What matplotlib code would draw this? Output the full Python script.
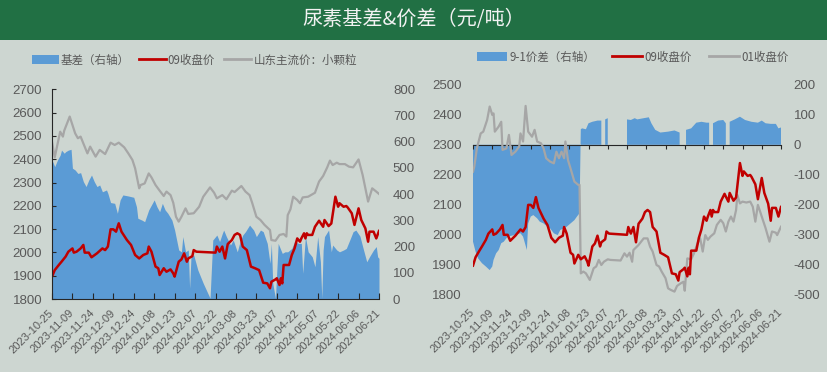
import matplotlib
matplotlib.use('Agg')
import matplotlib.pyplot as plt
import numpy as np
import pandas as pd
from matplotlib.patches import Rectangle, Patch
from matplotlib.lines import Line2D

plt.rcParams['font.family'] = ['Noto Sans CJK SC', 'DejaVu Sans']

# ---------------- data ----------------
title = '尿素基差&价差（元/吨）'
tick_labels = ['2023-10-25', '2023-11-09', '2023-11-24', '2023-12-09', '2023-12-24',
               '2024-01-08', '2024-01-23', '2024-02-07', '2024-02-22', '2024-03-08',
               '2024-03-23', '2024-04-07', '2024-04-22', '2024-05-07', '2024-05-22',
               '2024-06-06', '2024-06-21']
left_yticks = [1800, 1900, 2000, 2100, 2200, 2300, 2400, 2500, 2600, 2700]
left_ryticks = [0, 100, 200, 300, 400, 500, 600, 700, 800]
right_yticks = [1800, 1900, 2000, 2100, 2200, 2300, 2400, 2500]
right_ryticks = [-500, -400, -300, -200, -100, 0, 100, 200]

# 09 close price
c09_dates = ['2023-10-25', '2023-10-27', '2023-10-30', '2023-11-01', '2023-11-04', '2023-11-06',
             '2023-11-09', '2023-11-10', '2023-11-12', '2023-11-15', '2023-11-17', '2023-11-18',
             '2023-11-21', '2023-11-23', '2023-11-27', '2023-12-01', '2023-12-03', '2023-12-05',
             '2023-12-07', '2023-12-09', '2023-12-11', '2023-12-13', '2023-12-15', '2023-12-19',
             '2023-12-22', '2023-12-25', '2023-12-28', '2023-12-31', '2024-01-03', '2024-01-04',
             '2024-01-06', '2024-01-09', '2024-01-11', '2024-01-12', '2024-01-15', '2024-01-17',
             '2024-01-20', '2024-01-22', '2024-01-23', '2024-01-26', '2024-01-28', '2024-01-30',
             '2024-02-01', '2024-02-02', '2024-02-05', '2024-02-06', '2024-02-08', '2024-02-22',
             '2024-02-23', '2024-02-25', '2024-02-27', '2024-02-29', '2024-03-02', '2024-03-05',
             '2024-03-07', '2024-03-09', '2024-03-11', '2024-03-13', '2024-03-16', '2024-03-19',
             '2024-03-22', '2024-03-25', '2024-03-28', '2024-03-31', '2024-04-02', '2024-04-03',
             '2024-04-06', '2024-04-07', '2024-04-09', '2024-04-10', '2024-04-11', '2024-04-12',
             '2024-04-16', '2024-04-18', '2024-04-20', '2024-04-22', '2024-04-24', '2024-04-25',
             '2024-04-27', '2024-04-28', '2024-04-29', '2024-04-30', '2024-05-03', '2024-05-05',
             '2024-05-08', '2024-05-09', '2024-05-11', '2024-05-12', '2024-05-15', '2024-05-17',
             '2024-05-20', '2024-05-22', '2024-05-23', '2024-05-26', '2024-05-28', '2024-05-29',
             '2024-06-01', '2024-06-03', '2024-06-06', '2024-06-08', '2024-06-11', '2024-06-13',
             '2024-06-14', '2024-06-17', '2024-06-19', '2024-06-21']
c09_values = [1896, 1924, 1946, 1960, 1982, 2003,
              2017, 1999, 2003, 2017, 2032, 1999,
              1999, 1979, 1996, 2017, 2010, 2025,
              2099, 2099, 2089, 2125, 2089, 2053,
              2032, 1989, 1974, 1989, 1996, 2025,
              2003, 1939, 1932, 1903, 1932, 1917,
              1927, 1910, 1896, 1960, 1970, 1996,
              1960, 1974, 1984, 2010, 2003, 1999,
              2025, 2003, 2025, 1974, 2036, 2053,
              2075, 2082, 2075, 2025, 2010, 1939,
              1932, 1924, 1870, 1867, 1846, 1874,
              1884, 1889, 1860, 1889, 1867, 1946,
              1946, 1989, 2017, 2060, 2046, 2060,
              2082, 2060, 2082, 2075, 2075, 2110,
              2136, 2127, 2110, 2139, 2113, 2124,
              2239, 2196, 2211, 2196, 2199, 2193,
              2168, 2118, 2189, 2139, 2103, 2046,
              2089, 2089, 2060, 2092]

# Shandong mainstream price: small granule
sd_dates = ['2023-10-25', '2023-10-27', '2023-10-31', '2023-11-02', '2023-11-03', '2023-11-07',
            '2023-11-11', '2023-11-13', '2023-11-15', '2023-11-17', '2023-11-20', '2023-11-22',
            '2023-11-26', '2023-11-29', '2023-12-03', '2023-12-07', '2023-12-10', '2023-12-13',
            '2023-12-17', '2023-12-20', '2023-12-23', '2023-12-25', '2023-12-28', '2023-12-29',
            '2024-01-01', '2024-01-04', '2024-01-06', '2024-01-09', '2024-01-12', '2024-01-15',
            '2024-01-17', '2024-01-20', '2024-01-22', '2024-01-24', '2024-01-26', '2024-01-28',
            '2024-01-31', '2024-02-02', '2024-02-06', '2024-02-10', '2024-02-13', '2024-02-18',
            '2024-02-21', '2024-02-23', '2024-02-27', '2024-03-01', '2024-03-05', '2024-03-07',
            '2024-03-12', '2024-03-15', '2024-03-18', '2024-03-20', '2024-03-23', '2024-03-26',
            '2024-03-29', '2024-04-02', '2024-04-03', '2024-04-06', '2024-04-09', '2024-04-12',
            '2024-04-14', '2024-04-15', '2024-04-17', '2024-04-19', '2024-04-22', '2024-04-24',
            '2024-04-26', '2024-04-30', '2024-05-05', '2024-05-08', '2024-05-11', '2024-05-14',
            '2024-05-16', '2024-05-18', '2024-05-21', '2024-05-23', '2024-05-27', '2024-05-30',
            '2024-06-02', '2024-06-06', '2024-06-09', '2024-06-13', '2024-06-16', '2024-06-19',
            '2024-06-21']
sd_values = [2475, 2408, 2518, 2497, 2523, 2583,
             2511, 2490, 2497, 2468, 2425, 2454,
             2411, 2440, 2422, 2471, 2461, 2471,
             2451, 2425, 2397, 2361, 2275, 2289,
             2296, 2339, 2322, 2289, 2265, 2242,
             2261, 2246, 2213, 2153, 2132, 2153,
             2189, 2165, 2168, 2196, 2239, 2279,
             2256, 2232, 2246, 2228, 2265, 2259,
             2285, 2261, 2246, 2211, 2153, 2139,
             2118, 2096, 2053, 2050, 2075, 2079,
             2068, 2160, 2185, 2239, 2225, 2211,
             2236, 2239, 2256, 2304, 2328, 2365,
             2394, 2375, 2385, 2379, 2379, 2368,
             2365, 2399, 2332, 2218, 2275, 2261,
             2251]

# basis (right axis)
basis_dates = ['2023-10-25', '2023-10-26', '2023-10-27', '2023-10-29', '2023-10-31', '2023-11-01',
               '2023-11-03', '2023-11-04', '2023-11-06', '2023-11-08', '2023-11-09', '2023-11-11',
               '2023-11-13', '2023-11-15', '2023-11-17', '2023-11-19', '2023-11-21', '2023-11-23',
               '2023-11-25', '2023-11-27', '2023-11-29', '2023-12-01', '2023-12-04', '2023-12-05',
               '2023-12-07', '2023-12-10', '2023-12-12', '2023-12-14', '2023-12-16', '2023-12-20',
               '2023-12-24', '2023-12-26', '2023-12-27', '2023-12-30', '2024-01-01', '2024-01-04',
               '2024-01-06', '2024-01-08', '2024-01-10', '2024-01-12', '2024-01-14', '2024-01-16',
               '2024-01-18', '2024-01-21', '2024-01-23', '2024-01-25', '2024-01-26', '2024-01-28',
               '2024-01-29', '2024-01-31', '2024-02-02', '2024-02-03', '2024-02-04', '2024-02-06',
               '2024-02-09', '2024-02-13', '2024-02-18', '2024-02-20', '2024-02-23', '2024-02-25',
               '2024-02-27', '2024-02-28', '2024-03-01', '2024-03-04', '2024-03-06', '2024-03-09',
               '2024-03-11', '2024-03-13', '2024-03-15', '2024-03-18', '2024-03-21', '2024-03-23',
               '2024-03-26', '2024-03-28', '2024-03-31', '2024-04-02', '2024-04-03', '2024-04-04',
               '2024-04-06', '2024-04-08', '2024-04-11', '2024-04-13', '2024-04-15', '2024-04-18',
               '2024-04-20', '2024-04-23', '2024-04-25', '2024-04-26', '2024-04-28', '2024-04-30',
               '2024-05-03', '2024-05-05', '2024-05-07', '2024-05-09', '2024-05-10', '2024-05-11',
               '2024-05-12', '2024-05-15', '2024-05-17', '2024-05-18', '2024-05-21', '2024-05-23',
               '2024-05-26', '2024-05-28', '2024-05-31', '2024-06-02', '2024-06-04', '2024-06-07',
               '2024-06-09', '2024-06-12', '2024-06-14', '2024-06-17', '2024-06-19', '2024-06-20',
               '2024-06-21']
basis_values = [530, 518, 505, 530, 549, 568,
                556, 562, 568, 571, 499, 492,
                479, 482, 448, 429, 454, 473,
                448, 429, 435, 409, 416, 403,
                368, 365, 327, 378, 397, 393,
                388, 352, 308, 301, 295, 340,
                359, 378, 352, 333, 365, 340,
                327, 301, 263, 212, 187, 180,
                238, 180, 187, 41, 161, 168,
                111, 60, 3, 225, 244, 219,
                250, 263, 238, 206, 225, 180,
                219, 244, 257, 282, 263, 238,
                263, 257, 212, 136, 212, 60,
                3, 212, 174, 180, 180, 193,
                219, 212, 212, 98, 238, 180,
                161, 123, 238, 142, 3, 187,
                238, 263, 180, 206, 187, 180,
                187, 193, 231, 257, 263, 240,
                200, 142, 161, 187, 200, 161,
                155]

# 01 close price
c01_dates = ['2023-10-25', '2023-10-26', '2023-10-28', '2023-10-31', '2023-11-02', '2023-11-05',
             '2023-11-07', '2023-11-09', '2023-11-10', '2023-11-11', '2023-11-14', '2023-11-16',
             '2023-11-17', '2023-11-20', '2023-11-22', '2023-11-24', '2023-11-27', '2023-11-30',
             '2023-12-01', '2023-12-03', '2023-12-05', '2023-12-07', '2023-12-10', '2023-12-12',
             '2023-12-14', '2023-12-17', '2023-12-19', '2023-12-21', '2023-12-24', '2023-12-27',
             '2023-12-29', '2023-12-31', '2024-01-02', '2024-01-04', '2024-01-05', '2024-01-07',
             '2024-01-09', '2024-01-12', '2024-01-15', '2024-01-16', '2024-01-17', '2024-01-19',
             '2024-01-21', '2024-01-24', '2024-01-27', '2024-01-29', '2024-01-31', '2024-02-02',
             '2024-02-04', '2024-02-07', '2024-02-09', '2024-02-17', '2024-02-20', '2024-02-22',
             '2024-02-24', '2024-02-26', '2024-02-27', '2024-03-02', '2024-03-06', '2024-03-09',
             '2024-03-11', '2024-03-13', '2024-03-16', '2024-03-18', '2024-03-20', '2024-03-23',
             '2024-03-25', '2024-03-27', '2024-03-30', '2024-04-01', '2024-04-04', '2024-04-06',
             '2024-04-07', '2024-04-09', '2024-04-12', '2024-04-14', '2024-04-17', '2024-04-19',
             '2024-04-21', '2024-04-23', '2024-04-25', '2024-04-27', '2024-04-30', '2024-05-02',
             '2024-05-05', '2024-05-07', '2024-05-09', '2024-05-11', '2024-05-13', '2024-05-15',
             '2024-05-17', '2024-05-18', '2024-05-20', '2024-05-22', '2024-05-25', '2024-05-28',
             '2024-05-30', '2024-06-01', '2024-06-03', '2024-06-06', '2024-06-09', '2024-06-12',
             '2024-06-14', '2024-06-17', '2024-06-18', '2024-06-21']
c01_values = [2210, 2227, 2288, 2338, 2344, 2383,
              2428, 2400, 2405, 2344, 2361, 2377,
              2283, 2288, 2333, 2266, 2277, 2294,
              2338, 2311, 2430, 2344, 2327, 2350,
              2311, 2305, 2288, 2255, 2244, 2238,
              2277, 2255, 2277, 2255, 2311, 2249,
              2221, 2177, 2166, 2166, 1870, 1876,
              1870, 1848, 1887, 1893, 1915, 1898,
              1909, 1917, 1915, 1913, 1937, 1926,
              1939, 1909, 1948, 1965, 1987, 1987,
              1959, 1943, 1898, 1893, 1876, 1854,
              1820, 1815, 1809, 1828, 1837, 1842,
              1812, 1920, 1917, 1935, 1971, 1987,
              1943, 1998, 1982, 1993, 2004, 2032,
              2049, 2038, 2010, 2043, 2060, 2043,
              2082, 2132, 2104, 2110, 2107, 2110,
              2093, 2043, 2099, 2060, 2021, 1976,
              2010, 2006, 1998, 2026]

# 9-1 spread (right axis), NaN = no data
sp_dates = ['2023-10-25', '2023-10-27', '2023-10-29', '2023-11-01', '2023-11-04', '2023-11-07',
            '2023-11-09', '2023-11-10', '2023-11-12', '2023-11-14', '2023-11-16', '2023-11-18',
            '2023-11-21', '2023-11-23', '2023-11-26', '2023-11-28', '2023-12-01', '2023-12-03',
            '2023-12-06', '2023-12-07', '2023-12-09', '2023-12-11', '2023-12-14', '2023-12-16',
            '2023-12-19', '2023-12-22', '2023-12-24', '2023-12-27', '2023-12-30', '2024-01-01',
            '2024-01-04', '2024-01-06', '2024-01-09', '2024-01-12', '2024-01-14', '2024-01-16',
            '2024-01-17', '2024-01-18', '2024-01-21', '2024-01-23', '2024-01-26', '2024-01-30',
            '2024-02-02', '2024-02-03', '2024-02-05', '2024-02-07', '2024-02-08', '2024-02-22',
            '2024-02-25', '2024-02-28', '2024-03-01', '2024-03-06', '2024-03-10', '2024-03-12',
            '2024-03-15', '2024-03-19', '2024-03-25', '2024-03-30', '2024-04-03', '2024-04-04',
            '2024-04-08', '2024-04-12', '2024-04-16', '2024-04-20', '2024-04-24', '2024-04-26',
            '2024-04-27', '2024-04-29', '2024-05-03', '2024-05-07', '2024-05-09', '2024-05-10',
            '2024-05-12', '2024-05-16', '2024-05-20', '2024-05-24', '2024-05-29', '2024-06-03',
            '2024-06-06', '2024-06-09', '2024-06-13', '2024-06-17', '2024-06-19', '2024-06-21']
sp_values = [-324, -357, -380, -396, -407, -419,
             -407, -385, -363, -352, -329, -324,
             -307, -305, -302, -298, -296, -307,
             -352, -263, -240, -235, -246, -257,
             -263, -274, -279, -296, -302, -285,
             -279, -274, -263, -252, -240, -229,
             52, 55, 52, 72, 77, 81,
             81, np.nan, 85, 89, np.nan, 85,
             83, 89, 85, 89, 92, 72,
             50, 41, 44, 48, 41, np.nan,
             50, 55, 74, 77, 74, 74,
             np.nan, 72, 81, 83, 72, np.nan,
             77, 85, 94, 83, 77, 74,
             81, 72, 70, 70, 55, 58]

# ---------------- style ----------------
BG = '#cdd6d1'
GREEN = '#217044'
BLUE = '#5b9bd5'
RED = '#c00000'
GRAY = '#a6a6a6'
TXT = '#595959'
AX = '#262626'
NUM_FONT = ['Liberation Sans Narrow', 'Liberation Sans', 'DejaVu Sans']

W, H = 828, 372
fig = plt.figure(figsize=(W / 100, H / 100), dpi=100, facecolor=BG)
fig.add_artist(Rectangle((0, 1 - 40 / H), 1, 40 / H, transform=fig.transFigure,
                         facecolor=GREEN, edgecolor='none', zorder=0))
fig.text(0.5, 1 - 20 / H, title, ha='center', va='center', color='#f2f2f2', fontsize=14.5)

ticks = pd.to_datetime(tick_labels)
xmin, xmax = ticks[0], ticks[-1]


def style_xlabels(ax):
    ax.set_xticks(ticks)
    ax.set_xticklabels(tick_labels, rotation=45, ha='right', va='center',
                       rotation_mode='anchor', color=TXT, fontsize=8, family=NUM_FONT)


def style_ylabels(ax, vals):
    ax.set_yticks(vals)
    ax.set_yticklabels([str(v) for v in vals], color=TXT, fontsize=9.5, family=NUM_FONT)


# ---------------- left chart ----------------
ax1 = fig.add_axes([52 / W, 1 - 299 / H, (379 - 52) / W, (299 - 89.3) / H])
ax1r = ax1.twinx()
ax1.set_zorder(ax1r.get_zorder() + 1)
ax1.patch.set_visible(False)
ax1r.patch.set_visible(False)

bd = pd.to_datetime(basis_dates)
ax1r.fill_between(bd, 0, basis_values, color=BLUE, linewidth=0)
ax1.plot(pd.to_datetime(sd_dates), sd_values, color=GRAY, lw=1.6)
ax1.plot(pd.to_datetime(c09_dates), c09_values, color=RED, lw=1.8)

ax1.set_xlim(xmin, xmax)
ax1.set_ylim(1800, 2700)
ax1r.set_ylim(0, 800)
style_xlabels(ax1)
style_ylabels(ax1, left_yticks)
style_ylabels(ax1r, left_ryticks)
ax1.tick_params(axis='x', direction='in', length=4, color=AX, pad=9)
ax1.tick_params(axis='y', direction='in', length=3, color=AX, pad=7)
ax1r.tick_params(axis='y', length=0, pad=10)
for s in ['top', 'right']:
    ax1.spines[s].set_visible(False)
for s in ax1r.spines.values():
    s.set_visible(False)
ax1.spines['left'].set_color(AX)
ax1.spines['bottom'].set_color(AX)

# ---------------- right chart ----------------
ax2 = fig.add_axes([473 / W, 1 - 294.3 / H, (781 - 473) / W, (294.3 - 85) / H])
ax2r = ax2.twinx()
ax2.set_zorder(ax2r.get_zorder() + 1)
ax2.patch.set_visible(False)
ax2r.patch.set_visible(False)

spd = pd.to_datetime(sp_dates)
ax2r.fill_between(spd, 0, np.array(sp_values, dtype=float), color=BLUE, linewidth=0)
ax2.plot(pd.to_datetime(c01_dates), c01_values, color=GRAY, lw=1.6)
ax2.plot(pd.to_datetime(c09_dates), c09_values, color=RED, lw=1.8)

ax2.set_xlim(xmin, xmax)
ax2.set_ylim(1800, 2500)
ax2r.set_ylim(-500, 200)
style_xlabels(ax2)
style_ylabels(ax2, right_yticks)
style_ylabels(ax2r, right_ryticks)
ax2.tick_params(axis='x', length=0, pad=12)
ax2.tick_params(axis='y', length=0, pad=8)
ax2r.tick_params(axis='y', length=0, pad=9)
for s in ax2.spines.values():
    s.set_visible(False)
for s in ['top', 'left', 'right']:
    ax2r.spines[s].set_visible(False)
ax2r.xaxis.set_visible(True)
ax2r.spines['bottom'].set_position(('data', 0))
ax2r.spines['bottom'].set_color(AX)
ax2r.tick_params(axis='x', direction='out', length=3, color=AX, labelbottom=False)

# ---------------- legends ----------------
leg_kw = dict(frameon=False, fontsize=8.3, handletextpad=0.2, labelcolor=TXT,
              borderaxespad=0, borderpad=0)
h1 = [Patch(facecolor=BLUE, edgecolor='none'), Line2D([], [], color=RED, lw=2),
      Line2D([], [], color=GRAY, lw=2)]
fig.legend(h1, ['基差（右轴）', '09收盘价', '山东主流价：小颗粒'], ncol=3,
           loc='center left', bbox_to_anchor=(32 / W, 1 - 60 / H),
           handlelength=2.3, columnspacing=0.8, handleheight=0.9, **leg_kw)
h2 = [Patch(facecolor=BLUE, edgecolor='none'), Line2D([], [], color=RED, lw=2),
      Line2D([], [], color=GRAY, lw=2)]
fig.legend(h2, ['9-1价差（右轴）', '09收盘价', '01收盘价'], ncol=3,
           loc='center left', bbox_to_anchor=(477 / W, 1 - 57 / H),
           handlelength=2.6, columnspacing=1.5, handleheight=0.9, **leg_kw)

fig.savefig('out.png', dpi=100, facecolor=BG)
